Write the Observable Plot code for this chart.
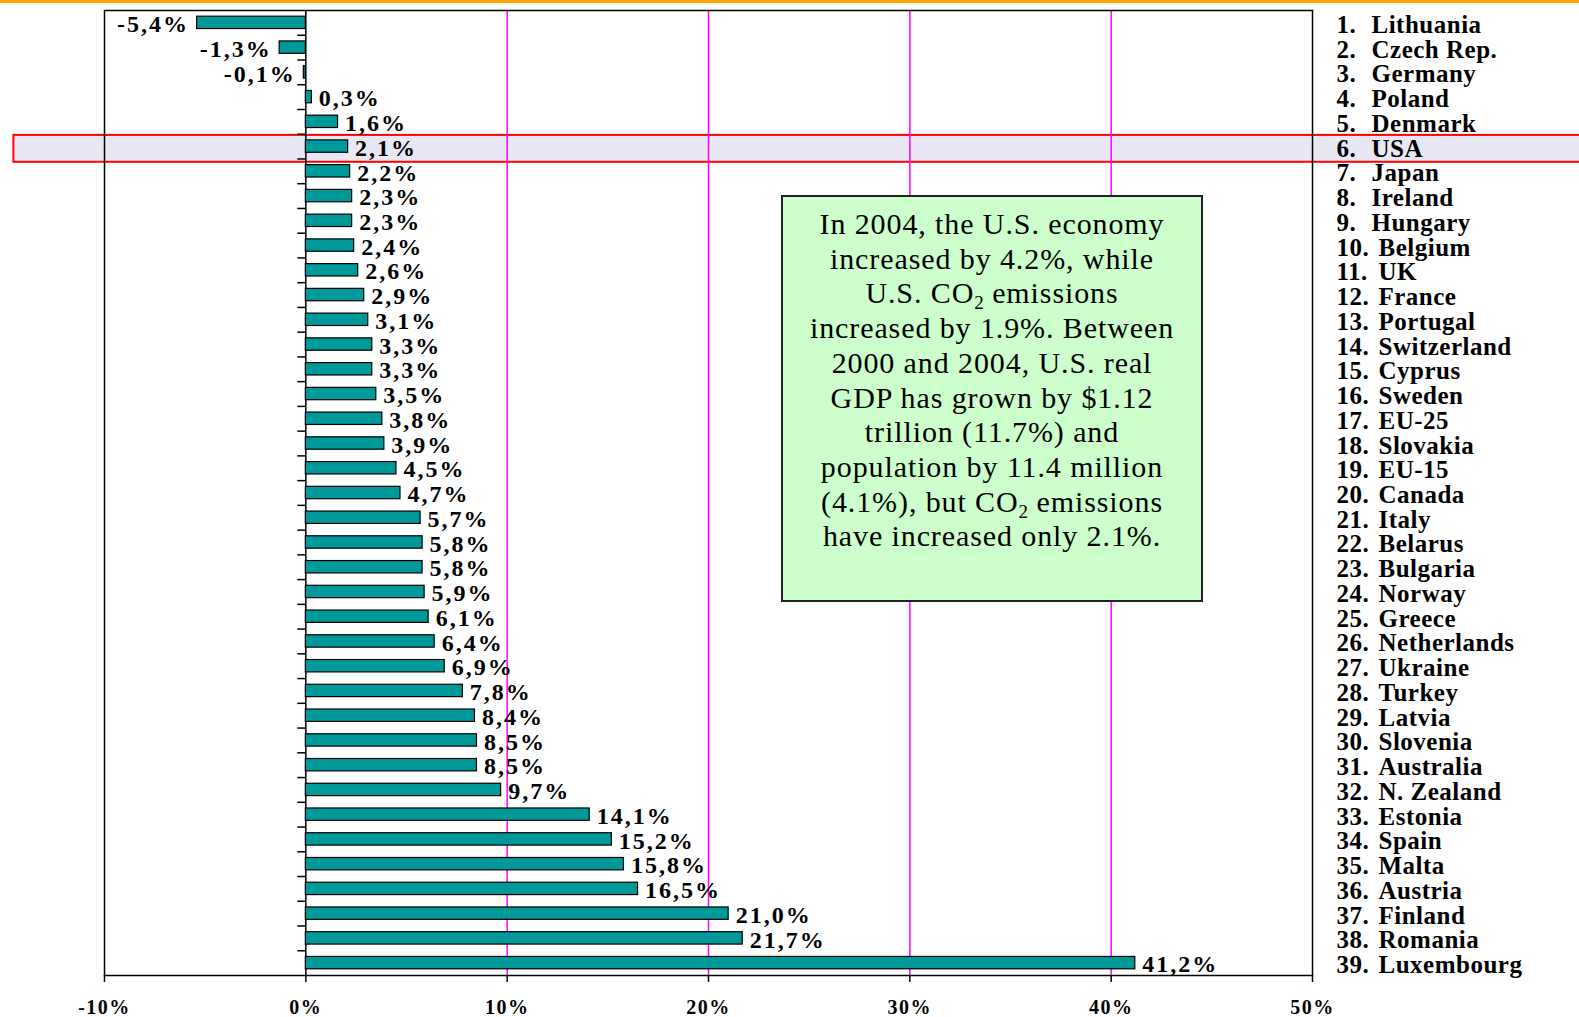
<!DOCTYPE html>
<html>
<head>
<meta charset="utf-8">
<script src="https://cdn.jsdelivr.net/npm/d3@7"></script>
<script src="https://cdn.jsdelivr.net/npm/@observablehq/plot@0.6"></script>
<style>
  html, body { margin: 0; padding: 0; background: #fff; }
  #wrap { position: relative; width: 1579px; height: 1017px; overflow: hidden; }
  #topline { position: absolute; left: 0; top: 0; width: 1579px; height: 3px; background: #ffa500; z-index: 3; }
  #note {
    position: absolute; left: 781px; top: 195px; width: 418px; height: 403px;
    background: #ccffcc; border: 2px solid #222; box-sizing: content-box;
    font-family: "Liberation Serif", "Times New Roman", serif; font-size: 30px;
    line-height: 34.7px; text-align: center; color: #000; letter-spacing: 0.9px;
    padding-top: 0; white-space: nowrap; z-index: 2;
  }
  #note .inner { position: absolute; left: 0; right: 0; top: 10px; }
  #note sub { font-size: 19px; line-height: 0; vertical-align: -6px; letter-spacing: 0; }
</style>
</head>
<body>
<div id="wrap">
  <div id="topline"></div>
  <div id="chart"></div>
  <div id="note"><div class="inner">In 2004, the U.S. economy<br>increased by 4.2%, while<br>U.S. CO<sub>2</sub> emissions<br>increased by 1.9%. Between<br>2000 and 2004, U.S. real<br>GDP has grown by $1.12<br>trillion (11.7%) and<br>population by 11.4 million<br>(4.1%), but CO<sub>2</sub> emissions<br>have increased only 2.1%.</div></div>
</div>
<script>
const countries = ["Lithuania","Czech Rep.","Germany","Poland","Denmark","USA","Japan","Ireland","Hungary","Belgium","UK","France","Portugal","Switzerland","Cyprus","Sweden","EU-25","Slovakia","EU-15","Canada","Italy","Belarus","Bulgaria","Norway","Greece","Netherlands","Ukraine","Turkey","Latvia","Slovenia","Australia","N. Zealand","Estonia","Spain","Malta","Austria","Finland","Romania","Luxembourg"];
const values = [-5.4,-1.3,-0.1,0.3,1.6,2.1,2.2,2.3,2.3,2.4,2.6,2.9,3.1,3.3,3.3,3.5,3.8,3.9,4.5,4.7,5.7,5.8,5.8,5.9,6.1,6.4,6.9,7.8,8.4,8.5,8.5,9.7,14.1,15.2,15.8,16.5,21.0,21.7,41.2];
const xTicks = [-10, 0, 10, 20, 30, 40, 50];
const gridTicks = [10, 20, 30, 40];
const highlighted = ["USA"];

const data = countries.map((c, i) => ({rank: i + 1, country: c, value: values[i]}));
const fmt = v => v.toFixed(1).replace(".", ",") + "%";

const W = 1579, H = 1017, mL = 104, mR = 267, mT = 10, mB = 42;
const step = (H - mT - mB) / countries.length;
const serif = "'Liberation Serif', 'Times New Roman', serif";

const chart = Plot.plot({
  width: W, height: H,
  marginLeft: mL, marginRight: mR, marginTop: mT, marginBottom: mB,
  style: {fontFamily: serif, background: "transparent", color: "#000"},
  x: {domain: [-10, 50], axis: null},
  y: {domain: countries, paddingInner: 0.5, paddingOuter: 0.25, round: false, axis: null},
  marks: [
    Plot.barX(highlighted, {y: d => d, x1: -14.5, x2: 65, fill: "#e8e8f4", stroke: "#ff0000", strokeWidth: 2, insetTop: -5, insetBottom: -9.5}),
    Plot.ruleX(gridTicks, {stroke: "#ff00ff", strokeWidth: 1.5}),
    Plot.frame({stroke: "#000", strokeWidth: 1.5}),
    Plot.ruleX([0], {stroke: "#000", strokeWidth: 1.5}),
    Plot.ruleY(countries.slice(1), {x1: -0.4, x2: 0, dy: -step / 2, stroke: "#000", strokeWidth: 1.5}),
    Plot.barX(data, {y: "country", x: "value", fill: "#009999", stroke: "#000", strokeWidth: 1.2}),
    Plot.text(data.filter(d => d.value >= 0), {y: "country", x: "value", text: d => fmt(d.value), textAnchor: "start", dx: 7, dy: 1.5, fontSize: 24, fontWeight: "bold", fill: "#000"}),
    Plot.text(data.filter(d => d.value < 0), {y: "country", x: "value", text: d => fmt(d.value), textAnchor: "end", dx: -8, dy: 1.5, fontSize: 24, fontWeight: "bold", fill: "#000"}),
    Plot.text(data, {y: "country", x: 50, text: d => d.rank + ".", textAnchor: "start", dx: 24, dy: 2, fontSize: 25, fontWeight: "bold", fill: "#000"}),
    Plot.text(data.filter(d => d.rank < 10), {y: "country", x: 50, text: "country", textAnchor: "start", dx: 59, dy: 2, fontSize: 25, fontWeight: "bold", fill: "#000"}),
    Plot.text(data.filter(d => d.rank >= 10), {y: "country", x: 50, text: "country", textAnchor: "start", dx: 66, dy: 2, fontSize: 25, fontWeight: "bold", fill: "#000"}),
    Plot.axisX(xTicks, {label: null, tickFormat: d => d + "%", tickSize: 7, tickPadding: 17, fontSize: 20, fontWeight: "bold", stroke: "#000", strokeWidth: 1.5})
  ]
});

// letter spacing to mimic the wider original typesetting
d3.select(chart).selectAll('g[font-size="24"]').style("letter-spacing", "2px");
d3.select(chart).selectAll('g[font-size="25"]').style("letter-spacing", "0.5px");
d3.select(chart).selectAll('g[font-size="20"]').style("letter-spacing", "1.5px");

document.getElementById("chart").appendChild(chart);
</script>
</body>
</html>
